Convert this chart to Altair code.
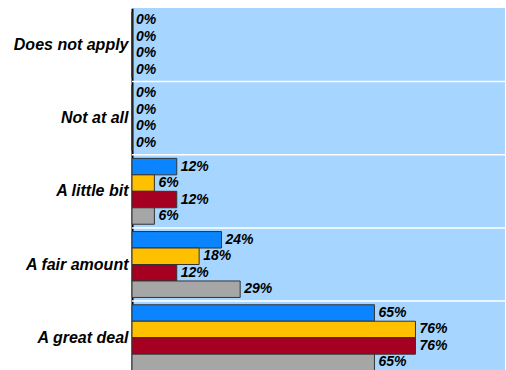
import altair as alt
import pandas as pd

categories = ["Does not apply", "Not at all", "A little bit", "A fair amount", "A great deal"]
series = ["Series 1", "Series 2", "Series 3", "Series 4"]
colors = ["#0A84FF", "#FFC000", "#A50021", "#A6A6A6"]
values = {
    "Series 1": [0, 0, 12, 24, 65],
    "Series 2": [0, 0, 6, 18, 76],
    "Series 3": [0, 0, 12, 12, 76],
    "Series 4": [0, 0, 6, 29, 65],
}

rows = []
for s in series:
    for c, v in zip(categories, values[s]):
        rows.append({"category": c, "series": s, "value": v, "label": f"{v}%"})
df = pd.DataFrame(rows)
sep = pd.DataFrame({"category": categories[1:]})

yscale = alt.Scale(domain=categories, range=[0.3, 366.3], paddingInner=0.1, paddingOuter=0.05)
xscale = alt.Scale(domain=[0, 100], nice=False)

yaxis = alt.Axis(title=None, ticks=False, domain=True, domainColor="black",
                 domainWidth=2, labelFont="Liberation Sans", labelFontSize=16,
                 labelFontWeight="bold", labelFontStyle="italic",
                 labelColor="black", labelPadding=4, labelLimit=200, grid=False)

base = alt.Chart(df)

rules = alt.Chart(sep).mark_rule(color="white", strokeWidth=1.5, yOffset=-3.66).encode(
    y=alt.Y("category:N", scale=yscale, sort=categories, bandPosition=0, axis=yaxis),
)

bars = base.mark_bar(stroke="#333333", strokeWidth=1).encode(
    y=alt.Y("category:N", scale=yscale, sort=categories, axis=yaxis),
    yOffset=alt.YOffset("series:N", sort=series, scale=alt.Scale(paddingInner=0, paddingOuter=0)),
    x=alt.X("value:Q", scale=xscale, axis=None),
    color=alt.Color("series:N", sort=series, scale=alt.Scale(domain=series, range=colors), legend=None),
)

texts = base.mark_text(align="left", baseline="middle", dx=4, font="Liberation Sans",
                       fontSize=14, fontWeight="bold", fontStyle="italic", color="black").encode(
    y=alt.Y("category:N", scale=yscale, sort=categories, axis=yaxis),
    yOffset=alt.YOffset("series:N", sort=series, scale=alt.Scale(paddingInner=0, paddingOuter=0)),
    x=alt.X("value:Q", scale=xscale, axis=None),
    text="label:N",
)

chart = alt.layer(rules, bars, texts).properties(
    width=373, height=362,
    autosize=alt.AutoSizeParams(type="none"),
    padding={"left": 132, "top": 8, "right": 1, "bottom": 0},
    background="white",
).configure_view(fill="#A6D5FF", stroke=None)

chart.save("out.html", embed_options={"renderer": "svg", "actions": False})
